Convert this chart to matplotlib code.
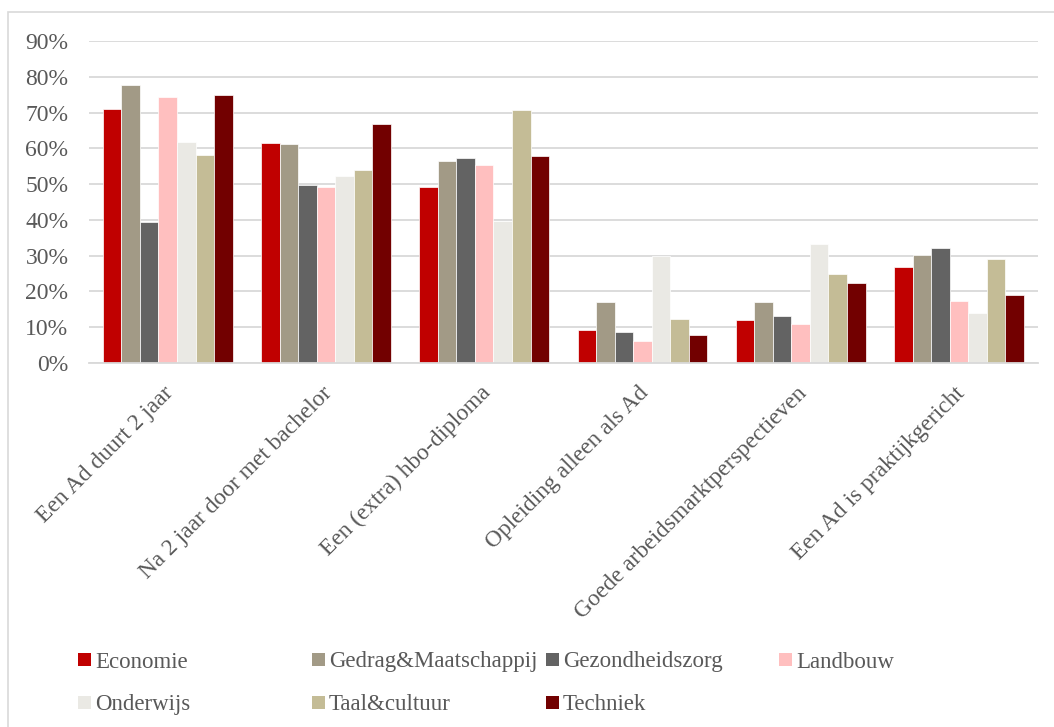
import matplotlib
matplotlib.use("Agg")
import matplotlib.pyplot as plt
import matplotlib.transforms as mtransforms
from matplotlib.patches import Rectangle
import numpy as np

categories = ["Een Ad duurt 2 jaar", "Na 2 jaar door met bachelor", "Een (extra) hbo-diploma",
              "Opleiding alleen als Ad", "Goede arbeidsmarktperspectieven", "Een Ad is praktijkgericht"]
series_names = ["Economie", "Gedrag&Maatschappij", "Gezondheidszorg", "Landbouw",
                "Onderwijs", "Taal&cultuur", "Techniek"]
economie = [71.0, 61.6, 49.1, 9.1, 11.9, 26.7]
gedrag = [77.8, 61.3, 56.4, 17.0, 17.0, 30.1]
gezondheidszorg = [39.5, 49.8, 57.2, 8.6, 13.0, 32.1]
landbouw = [74.4, 49.1, 55.4, 6.1, 10.9, 17.2]
onderwijs = [61.7, 52.2, 39.6, 29.9, 33.2, 14.1]
taal = [58.1, 53.9, 70.7, 12.3, 24.8, 29.0]
techniek = [74.9, 66.9, 57.9, 7.8, 22.5, 19.1]
yticks = [0, 10, 20, 30, 40, 50, 60, 70, 80, 90]
ytick_labels = ["0%", "10%", "20%", "30%", "40%", "50%", "60%", "70%", "80%", "90%"]

series = [economie, gedrag, gezondheidszorg, landbouw, onderwijs, taal, techniek]
colors = ["#C00000", "#A29A86", "#636363", "#FFBFBF", "#EAE9E4", "#C4BC96", "#720000"]

FONT = ["Liberation Serif", "DejaVu Serif"]
TXT = "#595959"
W, H = 1054, 727
fig = plt.figure(figsize=(W / 100, H / 100), dpi=100)

# outer chart border
fig.add_artist(Rectangle((8 / W, -0.01), 1.1, 1 - 12 / H + 0.01, transform=fig.transFigure,
                         fill=False, edgecolor="#D9D9D9", linewidth=1.2))

left, right = 88.6 / W, 1038 / W
bottom, top = 1 - 363 / H, 1 - 41 / H
ax = fig.add_axes([left, bottom, right - left, top - bottom])

n = len(series)
x = np.arange(len(categories))
group_w = 0.82
bw = group_w / n
for i, (vals, c) in enumerate(zip(series, colors)):
    ax.bar(x - group_w / 2 + bw * (i + 0.5), vals, width=bw, color=c,
           edgecolor="white", linewidth=0.5, zorder=3, label=series_names[i])

ax.set_xlim(-0.5, len(categories) - 0.5)
ax.set_ylim(0, 90)
ax.set_yticks(yticks)
ax.set_yticklabels(ytick_labels, fontfamily=FONT, fontsize=17, color=TXT)
ax.yaxis.grid(True, color="#D9D9D9", linewidth=1.3, zorder=0)
ax.tick_params(axis="y", length=0, pad=14.5)
ax.tick_params(axis="x", length=0, pad=0)
for s in ["top", "right", "left"]:
    ax.spines[s].set_visible(False)
ax.spines["bottom"].set_color("#D9D9D9")
ax.spines["bottom"].set_linewidth(1.3)
ax.spines["bottom"].set_zorder(4)

ax.set_xticks(x)
ax.set_xticklabels(categories, rotation=45, ha="right", va="center",
                   rotation_mode="anchor", fontfamily=FONT, fontsize=16.8, color=TXT)
offset = mtransforms.ScaledTranslation(3 / 100, -27 / 100, fig.dpi_scale_trans)
for lbl in ax.get_xticklabels():
    lbl.set_transform(lbl.get_transform() + offset)

# legend
leg_x = [78, 312, 546, 779, 78, 312, 546]
leg_y = [659.5, 659.5, 659.5, 659.5, 702, 702, 702]
sq = 13
for name, c, lx, ly in zip(series_names, colors, leg_x, leg_y):
    fig.add_artist(Rectangle((lx / W, 1 - (ly + sq / 2) / H), sq / W, sq / H,
                             transform=fig.transFigure, facecolor=c, edgecolor="none"))
    fig.text((lx + sq + 4) / W, 1 - ly / H, name, fontfamily=FONT, fontsize=16.5,
             color=TXT, ha="left", va="center_baseline")

fig.savefig("out.png", dpi=100, facecolor="white")
